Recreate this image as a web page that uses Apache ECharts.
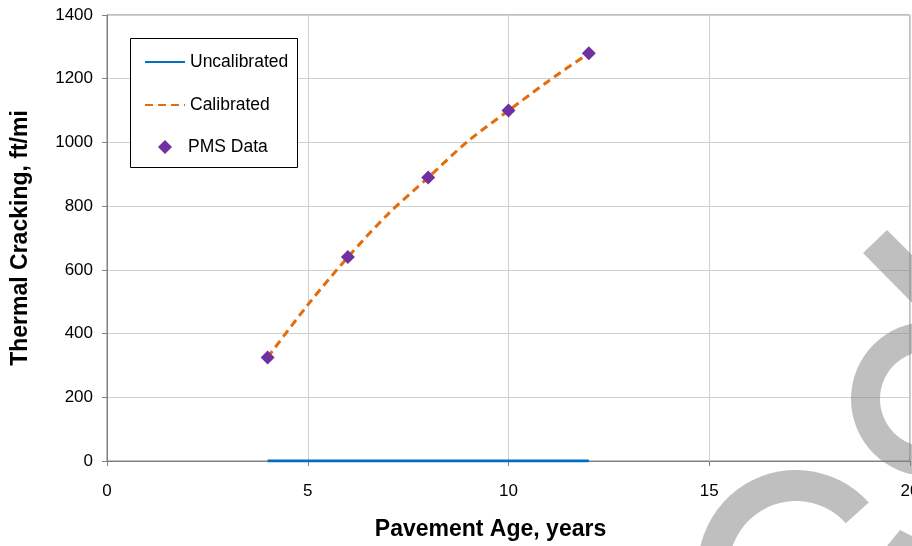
<!DOCTYPE html>
<html>
<head>
<meta charset="utf-8">
<script src="https://cdn.jsdelivr.net/npm/echarts@6/dist/echarts.min.js"></script>
<style>html,body{margin:0;padding:0;background:#fff}#c{width:912px;height:546px}</style>
</head>
<body>
<div id="c"></div>
<script>
// Data
const ages = [4, 5, 6, 7, 8, 9, 10, 11, 12];
const uncalibrated = [0, 0, 0, 0, 0, 0, 0, 0, 0];
const calibrated = [325, 490, 640, 775, 890, 1005, 1100, 1193, 1280];
const pmsAges = [4, 6, 8, 10, 12];
const pmsValues = [325, 640, 890, 1100, 1280];
const xTicks = [0, 5, 10, 15, 20];
const yTicks = [0, 200, 400, 600, 800, 1000, 1200, 1400];

const FONT = 'Liberation Sans, Arial, sans-serif';
const chart = echarts.init(document.getElementById('c'), null, {renderer: 'canvas'});
const wm = 'rgba(128,128,128,0.5)';

chart.setOption({
  backgroundColor: '#ffffff',
  animation: false,
  textStyle: {fontFamily: FONT},
  grid: {left: 107, right: 2, top: 15, bottom: 85, show: true, borderColor: '#808080', borderWidth: 1,
         outerBoundsMode: 'none', containLabel: false},
  legend: [
    {
      orient: 'vertical',
      left: 130, top: 38,
      padding: [15, 10, 14, 14],
      itemWidth: 40, itemHeight: 14, itemGap: 25,
      z: 10,
      textStyle: {fontSize: 17.5, color: '#000', fontFamily: FONT},
      data: [
        {name: 'Uncalibrated', itemStyle: {opacity: 0}},
        {name: 'Calibrated', itemStyle: {opacity: 0}}
      ]
    },
    {
      orient: 'vertical',
      left: 158, top: 138,
      padding: 0,
      itemWidth: 14, itemHeight: 14,
      z: 10,
      textStyle: {fontSize: 17.5, color: '#000', fontFamily: FONT, padding: [0, 0, 0, 11]},
      data: ['PMS Data']
    }
  ],
  xAxis: {
    type: 'value', min: xTicks[0], max: xTicks[xTicks.length - 1], interval: 5,
    name: 'Pavement Age, years', nameLocation: 'middle', nameGap: 57,
    nameTextStyle: {fontSize: 23, fontWeight: 'bold', color: '#000', fontFamily: FONT, padding: [0, 36, 0, 0]},
    axisLine: {lineStyle: {color: '#808080', width: 1}},
    axisTick: {show: true, inside: false, length: 5, lineStyle: {color: '#808080'}},
    axisLabel: {fontSize: 17, color: '#000', margin: 22, fontFamily: FONT, formatter: v => String(v)},
    splitLine: {show: true, lineStyle: {color: '#d0d0d0', width: 1}}
  },
  yAxis: {
    type: 'value', min: yTicks[0], max: yTicks[yTicks.length - 1], interval: 200,
    name: 'Thermal Cracking, ft/mi', nameLocation: 'middle', nameGap: 75,
    nameTextStyle: {fontSize: 23, fontWeight: 'bold', color: '#000', fontFamily: FONT},
    axisLine: {show: true, lineStyle: {color: '#808080', width: 1}},
    axisTick: {show: true, inside: false, length: 5, lineStyle: {color: '#808080'}},
    axisLabel: {fontSize: 17, color: '#000', margin: 14, fontFamily: FONT, formatter: v => String(v)},
    splitLine: {show: true, lineStyle: {color: '#d0d0d0', width: 1}}
  },
  series: [
    {
      name: 'Uncalibrated', type: 'line', symbol: 'none',
      data: ages.map((a, i) => [a, uncalibrated[i]]),
      lineStyle: {color: '#0070C0', width: 3},
      itemStyle: {color: '#0070C0'}, z: 3
    },
    {
      name: 'Calibrated', type: 'line', symbol: 'none', smooth: 0.3,
      data: ages.map((a, i) => [a, calibrated[i]]),
      lineStyle: {color: '#E46C0A', width: 3, type: [8, 5]},
      itemStyle: {color: '#E46C0A'}, z: 3
    },
    {
      name: 'PMS Data', type: 'scatter', symbol: 'diamond', symbolSize: 14,
      data: pmsAges.map((a, i) => [a, pmsValues[i]]),
      itemStyle: {color: '#7030A0', opacity: 1}, z: 4
    }
  ],
  graphic: [
    {type: 'rect', shape: {x: 130.5, y: 38.5, width: 167, height: 129}, style: {fill: '#ffffff', stroke: '#000000', lineWidth: 1}, z: 5},
    {type: 'polygon', shape: {points: [[887, 230], [960, 303], [936, 327], [863, 253]]}, style: {fill: wm}, z: 100},
    {type: 'sector', shape: {cx: 928, cy: 399, r: 77, r0: 48, startAngle: 0, endAngle: Math.PI * 2}, style: {fill: wm}, z: 100},
    {type: 'sector', shape: {cx: 796, cy: 568, r: 98, r0: 67, startAngle: 2.5, endAngle: 5.55, clockwise: true}, style: {fill: wm}, z: 100},
    {type: 'polygon', shape: {points: [[887, 546], [900, 530], [912, 536], [912, 546]]}, style: {fill: wm}, z: 100}
  ]
});
</script>
</body>
</html>
